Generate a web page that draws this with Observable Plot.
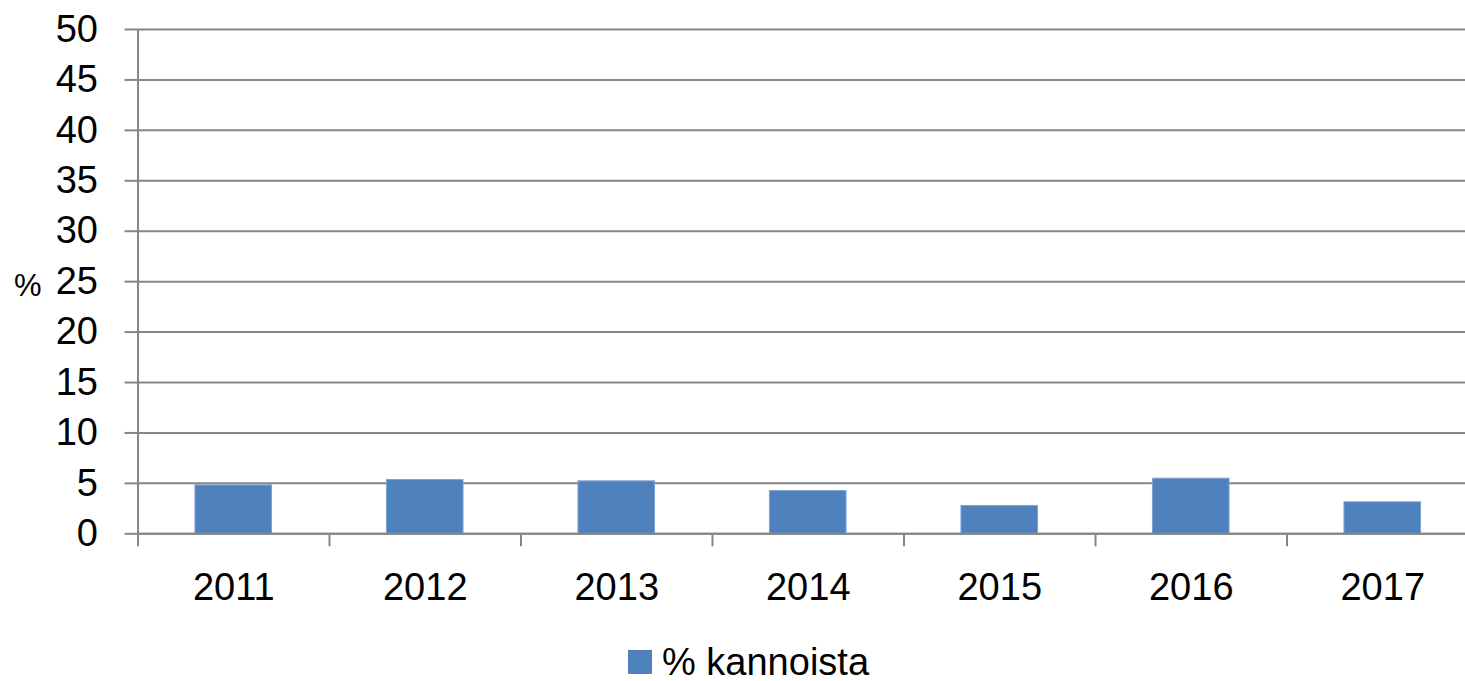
<!DOCTYPE html>
<html><head><meta charset="utf-8">
<script src="https://cdn.jsdelivr.net/npm/d3@7"></script>
<script src="https://cdn.jsdelivr.net/npm/@observablehq/plot@0.6"></script>
<style>
html,body{margin:0;padding:0;background:#fff;overflow:hidden;width:1465px;height:681px}
#wrap{position:relative;width:1465px;height:681px;overflow:hidden;font-family:"Liberation Sans",Arial,sans-serif;color:#000}
#chart{position:absolute;left:0;top:0}
#chart svg{max-width:none !important}
#ylab{position:absolute;left:14px;top:270px;font-size:31px;line-height:1}
#legend{position:absolute;left:628px;top:640px;height:44px;display:flex;align-items:center;font-size:38px;white-space:nowrap}
#legend .sw{width:24px;height:24px;background:#4F81BD;margin-right:10px}
</style></head>
<body><div id="wrap"><div id="chart"></div><div id="ylab">%</div>
<div id="legend"><span class="sw"></span><span id="legtext"></span></div></div>
<script>
const years = ["2011","2012","2013","2014","2015","2016","2017"];
const values = [4.8, 5.33, 5.2, 4.24, 2.76, 5.46, 3.12];
const seriesName = "% kannoista";
const yTicks = [0,5,10,15,20,25,30,35,40,45,50];

const data = years.map((year, i) => ({year, i, value: values[i]}));
const grid = "#868686";
const H = 615;
const plot = Plot.plot({
  width: 1478, height: H,
  marginLeft: 137.5, marginRight: 0, marginTop: 29, marginBottom: H - 533.3,
  x: {domain: [0, years.length], axis: null},
  y: {domain: [0, 50], axis: null},
  style: {fontFamily: '"Liberation Sans", Arial, sans-serif', color: "#000", background: "#fff", overflow: "visible", maxWidth: "none"},
  marks: [
    Plot.ruleY(yTicks, {stroke: grid, strokeWidth: 2}),
    Plot.axisY({ticks: yTicks, label: null, tickSize: 13, tickPadding: 27, stroke: grid, strokeWidth: 2, strokeOpacity: 1, fill: "#000", fontSize: 38, tickFormat: d => String(d)}),
    Plot.rectY(data, {x1: d => d.i + 0.3, x2: d => d.i + 0.7, y: "value", fill: "#4F81BD", stroke: "#7ea3d2", strokeWidth: 1}),
    Plot.ruleY([0], {stroke: grid, strokeWidth: 2}),
    Plot.ruleX([0], {stroke: grid, strokeWidth: 2}),
    Plot.axisX({ticks: d3.range(0, years.length + 1), label: null, tickSize: 13, stroke: grid, strokeWidth: 2, strokeOpacity: 1, tickFormat: () => ""}),
    Plot.axisX({ticks: years.map((_, i) => i + 0.5), label: null, tickSize: 0, tickPadding: 39, fill: "#000", fontSize: 38, tickFormat: t => years[Math.floor(t)]})
  ]
});
document.getElementById("chart").appendChild(plot);
document.getElementById("legtext").textContent = seriesName;
</script>
</body></html>
